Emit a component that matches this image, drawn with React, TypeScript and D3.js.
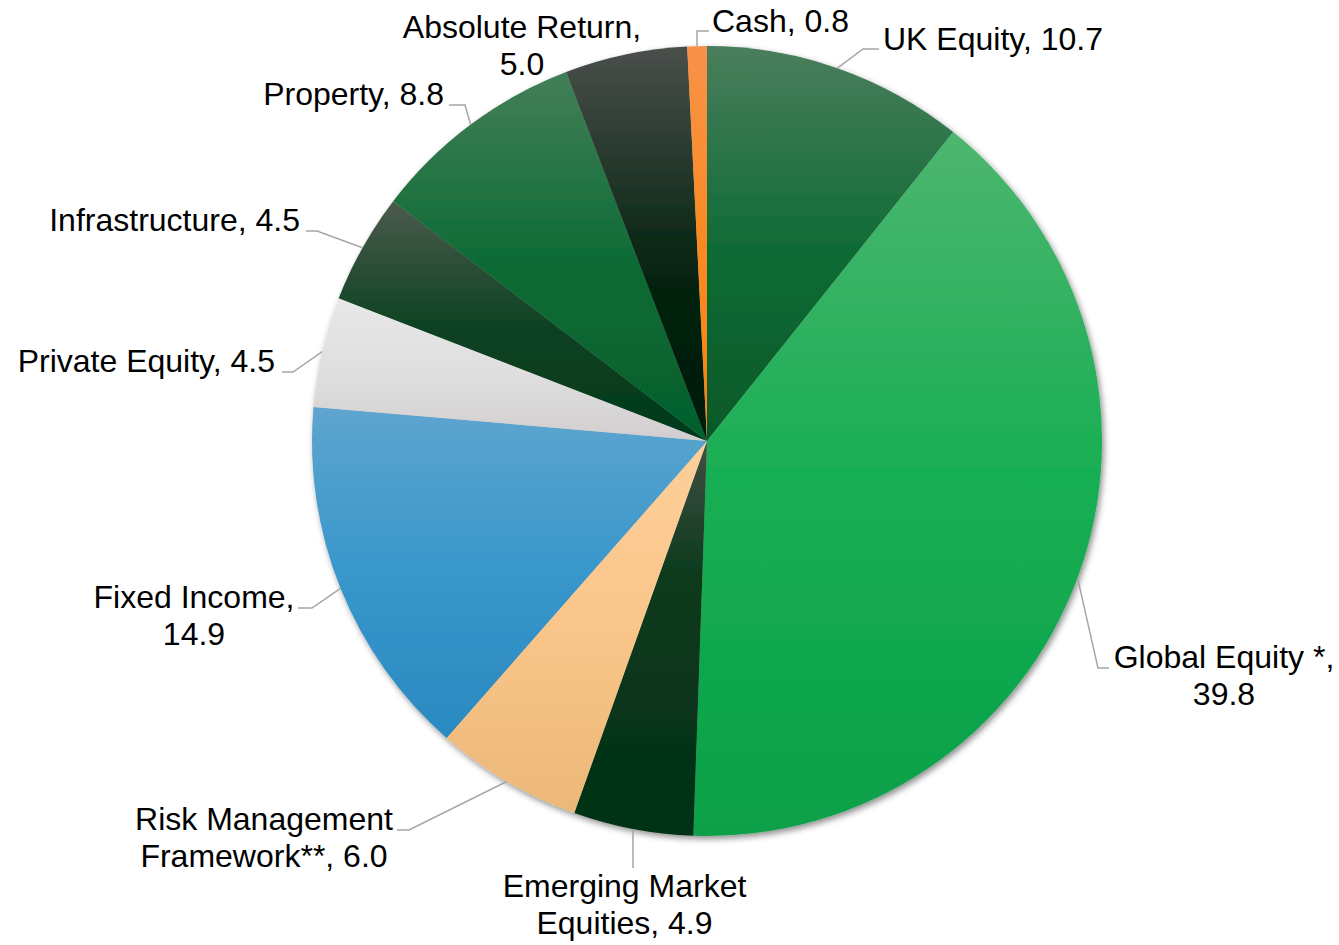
import React from "react";
import * as d3 from "d3";

// ---- data ----
const categories = [
  "UK Equity",
  "Global Equity *",
  "Emerging Market\nEquities",
  "Risk Management\nFramework**",
  "Fixed Income",
  "Private Equity",
  "Infrastructure",
  "Property",
  "Absolute Return",
  "Cash",
];
const values = [10.7, 39.8, 4.9, 6.0, 14.9, 4.5, 4.5, 8.8, 5.0, 0.8];

// gradient colours per slice: [top, middle, bottom]
const sliceTop = ["#4a7e5c", "#4db66f", "#434f45", "#fdd09a", "#5ea5cf", "#e9e8e9", "#4b5b4d", "#437f58", "#4a4f4b", "#f8924a"];
const sliceMid = ["#0c6a34", "#17ae53", "#0a3a1c", "#f9c58a", "#3897cb", "#e0dfe0", "#0b4121", "#0a6a33", "#072512", "#f98a22"];
const sliceBot = ["#06592a", "#0aa048", "#043018", "#ebb878", "#2a89c0", "#d1cecf", "#03391a", "#05602c", "#021a0c", "#f98310"];
const midOffset = [0.55, 0.5, 0.35, 0.5, 0.5, 0.5, 0.55, 0.55, 0.55, 0.5];

// ---- layout ----
const W = 1339;
const H = 945;
const CX = 707;
const CY = 441;
const R = 395;
const FONT = 32;
const LINE_H = 36.5;

const breakBeforeValue = [false, true, false, false, true, false, false, false, true, false];
const labelX = [883, 1224, 624.5, 264, 194, 275, 300, 444, 522, 712];
const labelY = [49.5, 668, 897, 830, 608, 371.5, 230.5, 105, 38, 31.5];
const labelAnchor = ["start", "middle", "middle", "middle", "middle", "end", "end", "end", "middle", "start"];
const elbow: ([number, number] | null)[] = [
  [863, 49], [1098, 668], null, [409, 830], [312, 608], [293, 372], [317, 231], [465, 105], null, [697, 31],
];
const leaderEnd: ([number, number] | null)[] = [
  [879, 49], [1109, 668], [633, 868], [397, 830], [298, 608], [282, 372], [306, 231], [449, 105], null, [709, 31],
];

export default function App() {
  const data = values.map((v, i) => ({ v, i }));
  const pie = d3
    .pie<{ v: number; i: number }>()
    .value((d) => d.v)
    .sort(null)
    .startAngle(0)
    .endAngle(2 * Math.PI);
  const arcs = pie(data);
  const arc = d3.arc<d3.PieArcDatum<{ v: number; i: number }>>().innerRadius(0).outerRadius(R);
  const edgeArc = d3.arc<d3.PieArcDatum<{ v: number; i: number }>>().innerRadius(R).outerRadius(R);

  return (
    <svg width={W} height={H} style={{ display: "block", position: "absolute", left: 0, top: 0 }}>
      <defs>
        {arcs.map((a) => (
          <linearGradient key={a.index} id={`grad${a.index}`} x1="0" y1="0" x2="0" y2="1">
            <stop offset="0" stopColor={sliceTop[a.index]} />
            <stop offset={midOffset[a.index]} stopColor={sliceMid[a.index]} />
            <stop offset="1" stopColor={sliceBot[a.index]} />
          </linearGradient>
        ))}
        <filter id="shadow" x="-10%" y="-10%" width="120%" height="120%">
          <feDropShadow dx="2" dy="3" stdDeviation="3" floodColor="#000" floodOpacity="0.45" />
        </filter>
      </defs>
      <rect x={0} y={0} width={W} height={H} fill="#fff" />
      <g transform={`translate(${CX},${CY})`} filter="url(#shadow)">
        {arcs.map((a) => (
          <path key={a.index} d={arc(a) || ""} fill={`url(#grad${a.index})`} />
        ))}
      </g>
      <g fill="none" stroke="#a6a6a6" strokeWidth={1.5}>
        {arcs.map((a) => {
          const end = leaderEnd[a.index];
          if (!end) return null;
          const [sx, sy] = edgeArc.centroid(a);
          const pts: [number, number][] = [[CX + sx, CY + sy]];
          const e = elbow[a.index];
          if (e) pts.push(e);
          pts.push(end);
          return <path key={a.index} d={d3.line()(pts) || ""} />;
        })}
      </g>
      <g fontFamily="'Liberation Sans', Arial, sans-serif" fontSize={FONT} fill="#000">
        {arcs.map((a) => {
          const i = a.index;
          const txt = `${categories[i]},${breakBeforeValue[i] ? "\n" : " "}${values[i].toFixed(1)}`;
          const lines = txt.split("\n");
          return (
            <text key={i} x={labelX[i]} y={labelY[i]} textAnchor={labelAnchor[i] as any}>
              {lines.map((l, k) => (
                <tspan key={k} x={labelX[i]} dy={k === 0 ? 0 : LINE_H}>
                  {l}
                </tspan>
              ))}
            </text>
          );
        })}
      </g>
    </svg>
  );
}
